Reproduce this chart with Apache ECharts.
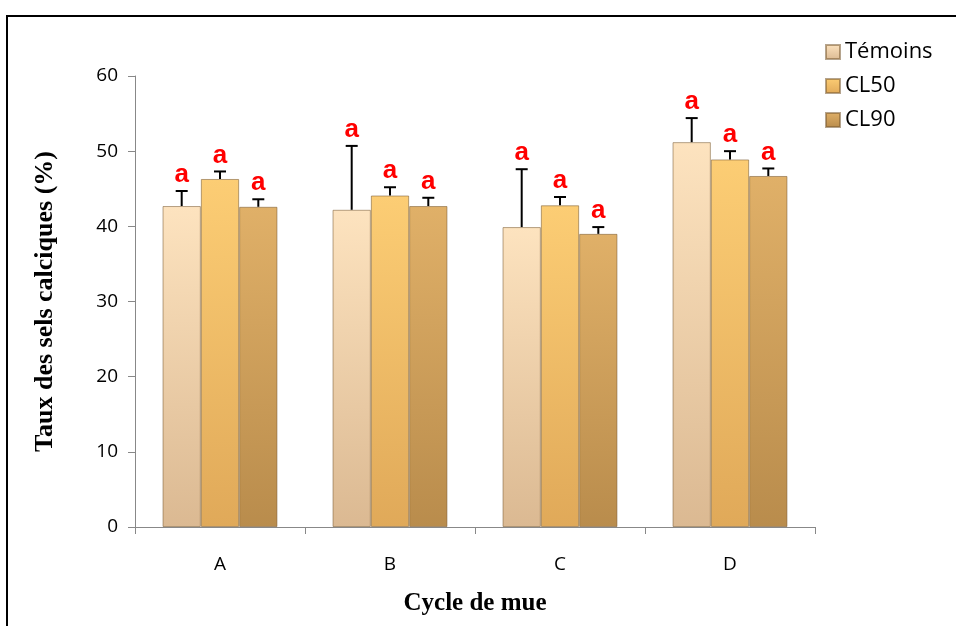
<!DOCTYPE html>
<html><head><meta charset="utf-8">
<script src="https://cdn.jsdelivr.net/npm/echarts@6/dist/echarts.min.js"></script>
<style>html,body{margin:0;padding:0;background:#fff}#c{width:956px;height:626px}</style>
</head><body><div id="c"></div>
<script>
const categories = ['A','B','C','D'];
const seriesNames = ['Témoins','CL50','CL90'];
const temoins = [42.7, 42.2, 39.9, 51.2];
const cl50 = [46.3, 44.1, 42.8, 48.9];
const cl90 = [42.6, 42.7, 39.0, 46.7];
const errTemoins = [2.0, 8.5, 7.7, 3.2];
const errCl50 = [1.0, 1.1, 1.1, 1.1];
const errCl90 = [1.0, 1.1, 0.9, 1.0];
const letters = [['a','a','a','a'],['a','a','a','a'],['a','a','a','a']];

const values = [temoins, cl50, cl90];
const errs = [errTemoins, errCl50, errCl90];
const colors = [
  ['#fde3bf','#dbb992'],
  ['#fccd74','#e0a959'],
  ['#e0b068','#b98c4c']
];
const gap = 0.324;
function grad(c){return new echarts.graphic.LinearGradient(0,0,0,1,[{offset:0,color:c[0]},{offset:1,color:c[1]}]);}

const chart = echarts.init(document.getElementById('c'));
const series = [];
values.forEach((v,s)=>{
  series.push({
    name: seriesNames[s], type:'bar', data:v, barGap:'0%', barCategoryGap:(gap*100)+'%',
    itemStyle:{color:grad(colors[s]), borderColor:'rgba(120,90,50,0.55)', borderWidth:1},
    z:2
  });
});
values.forEach((v,s)=>{
  series.push({
    type:'custom', z:5, silent:true,
    data: v.map((val,i)=>[i,val,errs[s][i],letters[s][i]]),
    renderItem:function(params, api){
      const i = api.value(0), val = api.value(1), e = api.value(2);
      const band = api.size([1,0])[0];
      const bw = band*(1-gap)/3;
      const cx = api.coord([i,0])[0] + (s-1)*bw;
      const yTop = api.coord([i,val+e])[1];
      const yBar = api.coord([i,val])[1];
      return {type:'group', children:[
        {type:'line', shape:{x1:cx,y1:yBar,x2:cx,y2:yTop}, style:{stroke:'#000',lineWidth:2}},
        {type:'line', shape:{x1:cx-6,y1:yTop,x2:cx+6,y2:yTop}, style:{stroke:'#000',lineWidth:2}},
        {type:'text', style:{text:letters[s][i], x:cx, y:yTop-3, textAlign:'center', textVerticalAlign:'bottom',
          fill:'#ff0000', font:'bold 26px "Liberation Sans", Arial, sans-serif'}}
      ]};
    }
  });
});

chart.setOption({
  animation:false,
  grid:{left:135, right:141, top:76, bottom:99},
  legend:{orient:'vertical', left:820, top:36, itemWidth:14, itemHeight:14, itemGap:12,
    data:seriesNames, textStyle:{fontSize:22, fontFamily:'"Open Sans", sans-serif', color:'#000'}, icon:'rect'},
  xAxis:{type:'category', data:categories,
    name:'Cycle de mue', nameLocation:'middle', nameGap:64,
    nameTextStyle:{fontFamily:'"Liberation Serif", serif', fontWeight:'bold', fontSize:25, color:'#000'},
    axisLine:{lineStyle:{color:'#888', width:1}},
    axisTick:{show:true, length:7, lineStyle:{color:'#888'}},
    axisLabel:{fontSize:19, color:'#000', fontFamily:'"Open Sans", sans-serif', margin:28}},
  yAxis:{type:'value', min:0, max:60, interval:10,
    name:'Taux des sels calciques (%)', nameLocation:'middle', nameGap:77,
    nameTextStyle:{fontFamily:'"Liberation Serif", serif', fontWeight:'bold', fontSize:26, color:'#000'},
    axisLine:{show:true, lineStyle:{color:'#888', width:1}},
    axisTick:{show:true, length:7, lineStyle:{color:'#888'}},
    splitLine:{show:false},
    axisLabel:{fontSize:19, color:'#000', fontFamily:'"Open Sans", sans-serif', margin:17}},
  graphic:[{type:'rect', shape:{x:7, y:16, width:1000, height:700}, style:{fill:'none', stroke:'#000', lineWidth:2}, silent:true}],
  series:series
});
</script></body></html>
